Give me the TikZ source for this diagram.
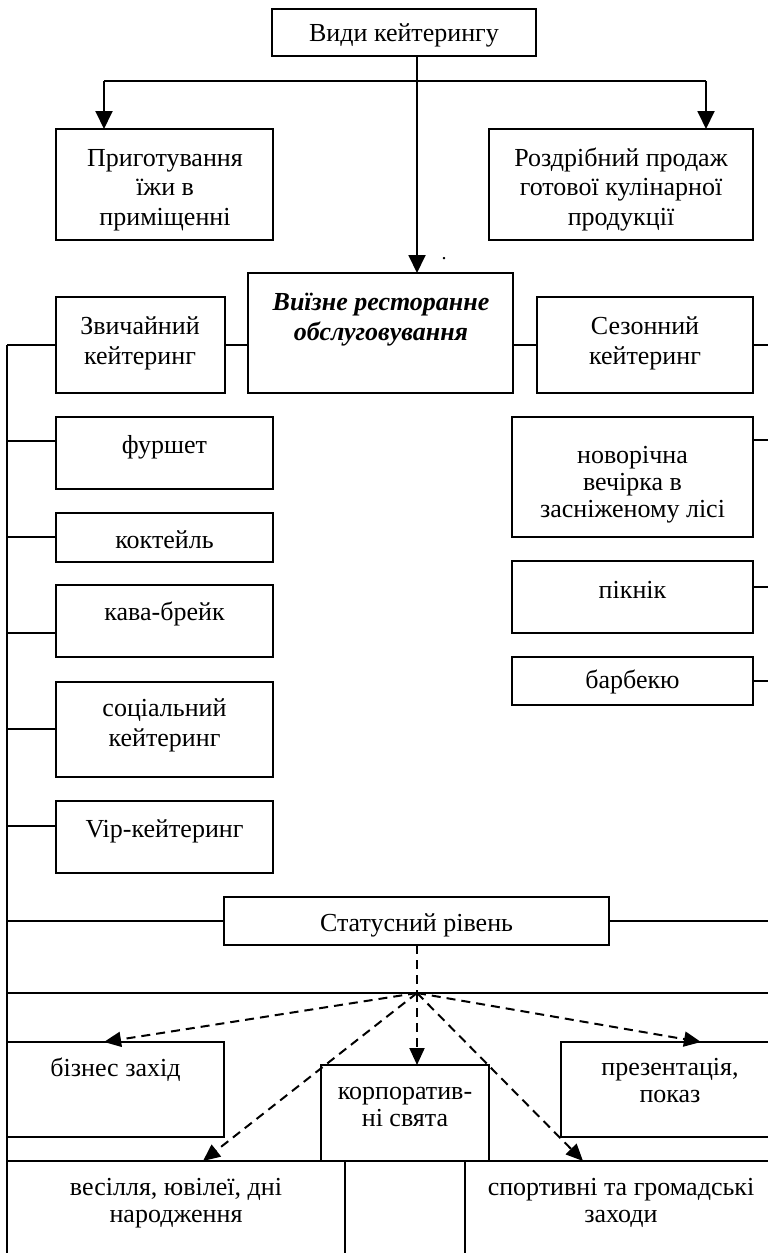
\documentclass[tikz,border=0pt]{standalone}
\usepackage{fontspec}
\setmainfont{Liberation Serif}
\usetikzlibrary{arrows.meta}
\newcommand{\mybox}[5]{\node[frame, anchor=north west, minimum width={(#4-#2)*1pt}, minimum height={(#5-#3)*1pt}] (#1) at (#2,#3) {};}
\begin{document}
\begin{tikzpicture}[x=1pt,y=-1pt,
  frame/.style={draw, line width=1.5pt, inner sep=0pt, outer sep=0pt},
  conn/.style={line width=1.7pt},
  arr/.style={line width=1.9pt, -{Triangle[length=18pt,width=17pt]}},
  dline/.style={line width=2pt, dash pattern=on 9pt off 6pt},
  darr/.style={dline, -{Triangle[length=17pt,width=15pt]}},
  lbl/.style={font=\fontsize{26}{29.5}\selectfont, align=center, anchor=base, inner sep=0pt},
  lbls/.style={font=\fontsize{26}{27}\selectfont, align=center, anchor=base, inner sep=0pt},
]
\useasboundingbox (0,0) rectangle (768,1253);
% boxes
\mybox{top}{272}{9}{536}{56}
\mybox{prep}{56}{129}{273}{240}
\mybox{retail}{489}{129}{753}{240}
\mybox{outcat}{248}{273}{513}{393}
\mybox{usual}{56}{297}{225}{393}
\mybox{season}{537}{297}{753}{393}
\mybox{furshet}{56}{417}{273}{489}
\mybox{cocktail}{56}{513}{273}{562}
\mybox{coffee}{56}{585}{273}{657}
\mybox{social}{56}{682}{273}{777}
\mybox{vip}{56}{801}{273}{873}
\mybox{newyear}{512}{417}{753}{537}
\mybox{picnic}{512}{561}{753}{633}
\mybox{bbq}{512}{657}{753}{705}
\mybox{status}{224}{897}{609}{945}
\mybox{biz}{7}{1042}{224}{1137}
\mybox{corp}{321}{1065}{489}{1161}
\mybox{pres}{561}{1042}{790}{1137}
\mybox{wedding}{7}{1161}{345}{1270}
\mybox{sport}{465}{1161}{790}{1270}
% texts (anchor = baseline of the last line)
\node[lbl] (tTop) at (404,41) {Види кейтерингу};
\node[lbl] (tPrep) at (165,225) {Приготування\\їжи в\\приміщенні};
\node[lbl] (tRetail) at (621,225) {Роздрібний продаж\\готової кулінарної\\продукції};
\node[lbl, font=\fontsize{26}{29.5}\selectfont\bfseries\itshape] (tOut) at (381,340) {Виїзне ресторанне\\обслуговування};
\node[lbl] (tUsual) at (140,364) {Звичайний\\кейтеринг};
\node[lbl] (tSeason) at (645,364) {Сезонний\\кейтеринг};
\node[lbl] (tFurshet) at (164.5,453) {фуршет};
\node[lbl] (tCocktail) at (164.5,548) {коктейль};
\node[lbl] (tCoffee) at (164.5,620) {кава-брейк};
\node[lbl] (tSocial) at (164.5,746) {соціальний\\кейтеринг};
\node[lbl] (tVip) at (164.5,837) {Vip-кейтеринг};
\node[lbls] (tNewyear) at (632.5,517) {новорічна\\вечірка в\\засніженому лісі};
\node[lbl] (tPicnic) at (632.5,598) {пікнік};
\node[lbl] (tBbq) at (632.5,688) {барбекю};
\node[lbl] (tStatus) at (416.5,931) {Статусний рівень};
\node[lbl] (tBiz) at (115.5,1076) {бізнес захід};
\node[lbls] (tCorp) at (405,1126) {корпоратив-\\ні свята};
\node[lbls] (tPres) at (670,1102) {презентація,\\показ};
\node[lbls] (tWedding) at (176,1222) {весілля, ювілеї, дні\\народження};
\node[lbls] (tSport) at (621,1222) {спортивні та громадські\\заходи};
\node[font=\fontsize{20}{20}\selectfont, anchor=base, inner sep=0pt] (dot) at (444,259) {.};
% top connectors
\coordinate (j0) at (417,81);
\coordinate (jl) at (104,81);
\coordinate (jr) at (706,81);
\draw[conn, line width=1.9pt] (top.south -| j0) -- (j0);
\draw[conn, line width=1.9pt] (jl) -- (jr);
\draw[arr] (j0) -- (outcat.north -| j0);
\draw[arr] (jl) -- (prep.north -| jl);
\draw[arr] (jr) -- (retail.north -| jr);
% middle row
\draw[conn] (usual.east) -- (outcat.west |- usual.east);
\draw[conn] (outcat.east |- season.west) -- (season.west);
% left bus
\coordinate (busTop) at (7,345);
\coordinate (busBot) at (7,1253);
\coordinate (edgeR) at (768,345);
\draw[conn] (busTop) -- (busBot);
\draw[conn] (usual.west) -- (busTop);
\draw[conn] (furshet.west |- 0,441) -- (busTop |- 0,441);
\draw[conn] (cocktail.west |- 0,537) -- (busTop |- 0,537);
\draw[conn] (coffee.west |- 0,633) -- (busTop |- 0,633);
\draw[conn] (social.west |- 0,729) -- (busTop |- 0,729);
\draw[conn] (vip.west |- 0,826) -- (busTop |- 0,826);
\draw[conn] (status.west) -- (busTop |- status.west);
% right stubs
\draw[conn] (season.east) -- (edgeR |- season.east);
\draw[conn] (newyear.east |- 0,440) -- (edgeR |- 0,440);
\draw[conn] (picnic.east |- 0,587) -- (edgeR |- 0,587);
\draw[conn] (bbq.east |- 0,681) -- (edgeR |- 0,681);
\draw[conn] (status.east) -- (edgeR |- status.east);
% full-width lines
\coordinate (hub) at (417,993);
\draw[conn] (busTop |- hub) -- (edgeR |- hub);
\draw[conn] (busTop |- 0,1161) -- (edgeR |- 0,1161);
% dashed
\coordinate (tbiz) at (104,1042);
\coordinate (tpres) at (701,1042);
\coordinate (twed) at (203,1161);
\coordinate (tsport) at (583,1161);
\draw[dline] (status.south -| hub) -- (hub);
\draw[darr] (hub) -- (tbiz);
\draw[darr] (hub) -- (corp.north -| hub);
\draw[darr] (hub) -- (tpres);
\draw[darr] (hub) -- (twed);
\draw[darr] (hub) -- (tsport);
\end{tikzpicture}
\end{document}
